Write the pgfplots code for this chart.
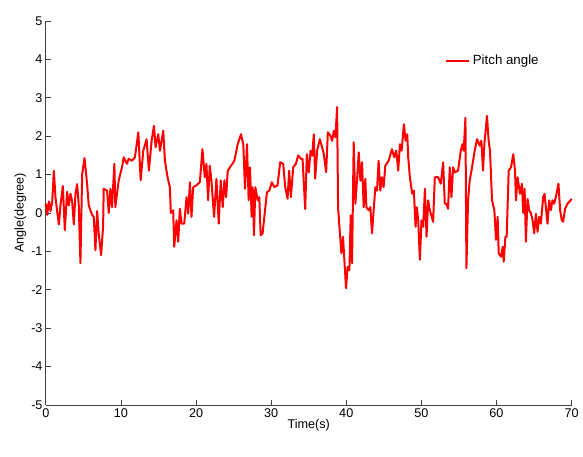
\documentclass[border=0pt]{standalone}
\usepackage{fontspec}
\setmainfont{Liberation Sans}
\usepackage{pgfplots}
\pgfplotsset{compat=1.18}
\begin{document}
\begin{tikzpicture}
\begin{axis}[
  name=ax,
  scale only axis,
  width=395.25pt, height=288.75pt,
  xmin=0, xmax=70, ymin=-5, ymax=5,
  axis x line=bottom, axis y line=left,
  axis line style={-, black!75, line width=0.6pt},
  tick align=inside,
  major tick length=4pt,
  tick style={black!75, line width=0.6pt},
  xtick={0,10,20,30,40,50,60,70},
  ytick={-5,-4,-3,-2,-1,0,1,2,3,4,5},
  yticklabels={-5,-4,-3,-2,-1,0,1,2,3,4,5},
  /pgf/number format/assume math mode=true,
  ticklabel style={font=\fontsize{9.5}{11}\selectfont},
  xticklabel style={yshift=1pt},
  yticklabel style={xshift=1pt},
  label style={font=\fontsize{9.5}{11}\selectfont},
  xlabel={Time(s)},
  ylabel={Angle(degree)},
  xlabel style={yshift=5pt},
  ylabel style={yshift=-3pt},
  legend style={at={(axis cs:53.0,3.96)}, anchor=west, draw=none, fill=none,
    font=\fontsize{10}{12}\selectfont, inner sep=1pt},
  legend cell align=left,
  clip=false,
]
\addplot[red, line width=1.5pt, line join=round] coordinates {
(0.00,0.25) (0.18,-0.05) (0.40,0.30) (0.62,0.05) (0.85,0.30) (1.06,1.10) (1.28,0.40) (1.50,0.05)
(1.73,-0.30) (1.95,0.20) (2.26,0.70) (2.52,-0.45) (2.83,0.55) (3.05,0.20) (3.28,0.50) (3.50,0.30)
(3.72,-0.30) (3.94,0.50) (4.16,0.75) (4.38,0.20) (4.60,-1.31) (4.83,1.00) (5.14,1.43) (5.49,0.76)
(5.71,0.20) (5.93,0.07) (6.15,-0.05) (6.37,-0.10) (6.60,-0.97) (6.82,0.05) (7.04,-0.55) (7.35,-1.10)
(7.62,-0.35) (7.70,0.63) (8.15,0.58) (8.37,0.00) (8.59,0.63) (8.81,0.15) (9.12,1.28) (9.25,0.15)
(9.70,0.85) (10.14,1.19) (10.36,1.45) (10.80,1.28) (11.02,1.41) (11.47,1.36)
(11.86,1.45) (12.31,2.10) (12.62,0.85) (12.97,1.62) (13.41,1.92) (13.72,1.10) (14.08,1.88) (14.39,2.27)
(14.61,1.71) (14.96,2.05) (15.19,1.62) (15.63,2.14) (15.85,1.36) (16.20,0.93) (16.51,0.67) (16.64,0.00)
(16.95,0.07) (17.09,-0.88) (17.40,-0.19) (17.62,-0.75) (17.84,0.11) (18.07,-0.28) (18.42,-0.28) (18.73,0.41)
(18.95,-0.02) (19.18,0.80) (19.39,-0.10) (19.61,0.67) (20.05,0.72) (20.50,0.80) (20.85,1.66) (21.16,0.93)
(21.38,1.28) (21.60,0.33) (21.82,1.23) (22.04,0.85) (22.40,-0.10) (22.71,0.89) (23.02,-0.28) (23.28,0.85)
(23.55,0.15) (23.77,0.85) (24.00,0.41) (24.22,1.10) (24.66,1.23) (25.10,1.36) (25.54,1.79) (25.98,2.05)
(26.29,1.79) (26.51,0.63) (26.78,1.79) (27.00,0.33) (27.18,1.19) (27.40,-0.10) (27.54,0.67) (27.71,-0.58)
(27.89,0.67) (28.20,0.33) (28.42,0.41) (28.60,-0.58) (28.86,-0.53) (29.09,-0.10) (29.44,0.54) (29.75,0.58)
(30.09,0.80) (30.41,0.67) (30.85,0.72) (31.20,1.32) (31.60,1.28) (31.87,0.67) (32.18,0.37) (32.40,1.10)
(32.62,0.41) (32.94,1.19) (33.29,1.28) (33.60,1.50) (33.96,1.41) (34.18,1.41) (34.53,0.10) (34.75,1.53)
(35.01,1.06) (35.24,1.62) (35.46,1.49) (35.68,2.05) (35.86,0.89) (36.12,1.62) (36.48,1.92) (36.79,1.71)
(37.01,1.53) (37.32,1.06) (37.55,2.10) (37.89,2.01) (38.12,1.88) (38.34,2.14) (38.56,1.97) (38.78,2.76)
(38.91,0.15) (39.09,-0.36) (39.35,-1.05) (39.57,-0.62) (39.80,-1.40) (39.97,-1.96) (40.19,-1.40) (40.42,-1.49)
(40.59,-0.06) (40.77,-1.31) (40.99,1.84) (41.21,0.24) (41.43,0.84) (41.66,1.58) (41.88,0.84) (42.10,1.32)
(42.32,0.15) (42.54,0.89) (42.68,0.15) (42.98,0.07) (43.21,0.15) (43.43,-0.53) (43.65,0.07) (43.87,0.67)
(44.09,0.58) (44.31,1.36) (44.53,0.58) (44.75,0.93) (44.97,0.67) (45.20,1.23) (45.64,1.36) (46.08,1.66)
(46.39,1.45) (46.65,1.62) (46.70,1.53) (46.92,1.10) (47.14,1.79) (47.37,1.62) (47.68,2.31) (47.90,1.88)
(48.12,2.05) (48.25,1.45) (48.47,0.93) (48.78,0.50) (49.00,0.58) (49.23,-0.36) (49.40,0.15) (49.58,-0.19)
(49.80,-1.22) (50.02,-0.19) (50.25,-0.36) (50.47,0.63) (50.69,-0.62) (50.91,0.33) (51.13,0.07) (51.57,-0.23)
(51.79,0.93) (52.24,0.93) (52.59,0.76) (52.90,1.32) (53.12,0.24) (53.34,0.24) (53.56,0.11) (53.78,1.19)
(54.01,0.41) (54.23,1.19) (54.45,1.06) (54.89,1.10) (55.25,1.62) (55.47,1.79) (55.64,1.62) (55.87,2.48)
(56.00,-1.44) (56.22,0.33) (56.44,0.85) (56.75,1.19) (57.10,1.62) (57.41,1.92) (57.77,1.75) (57.99,1.88)
(58.21,1.10) (58.39,1.79) (58.74,2.53) (58.96,1.88) (59.14,1.62) (59.41,0.33) (59.72,0.07) (59.94,-0.70)
(60.16,-0.10) (60.30,-1.05) (60.60,-1.14) (60.83,-0.88) (60.96,-1.27) (61.19,-0.62) (61.36,-0.62) (61.63,1.10)
(61.94,1.19) (62.24,1.53) (62.47,1.10) (62.60,0.33) (62.82,0.93) (63.13,0.50) (63.39,0.76) (63.57,0.00)
(63.75,0.63) (63.92,-0.75) (64.14,0.37) (64.36,0.07) (64.58,0.00) (64.81,-0.19) (65.03,-0.53) (65.25,-0.02)
(65.47,-0.49) (65.69,-0.10) (65.91,-0.28) (66.22,0.41) (66.40,0.50) (66.58,0.15) (66.80,-0.28) (67.02,0.33)
(67.24,0.07) (67.46,0.33) (67.68,0.24) (67.91,0.41) (68.26,0.76) (68.48,0.07) (68.70,-0.19) (68.88,-0.23)
(69.14,0.11) (69.45,0.24) (69.90,0.33) (70.00,0.37)
};
\addlegendentry{Pitch angle}
\end{axis}
\path ([shift={(-34.5pt,-39pt)}]ax.south west) rectangle ([shift={(7.5pt,15.75pt)}]ax.north east);
\end{tikzpicture}
\end{document}
